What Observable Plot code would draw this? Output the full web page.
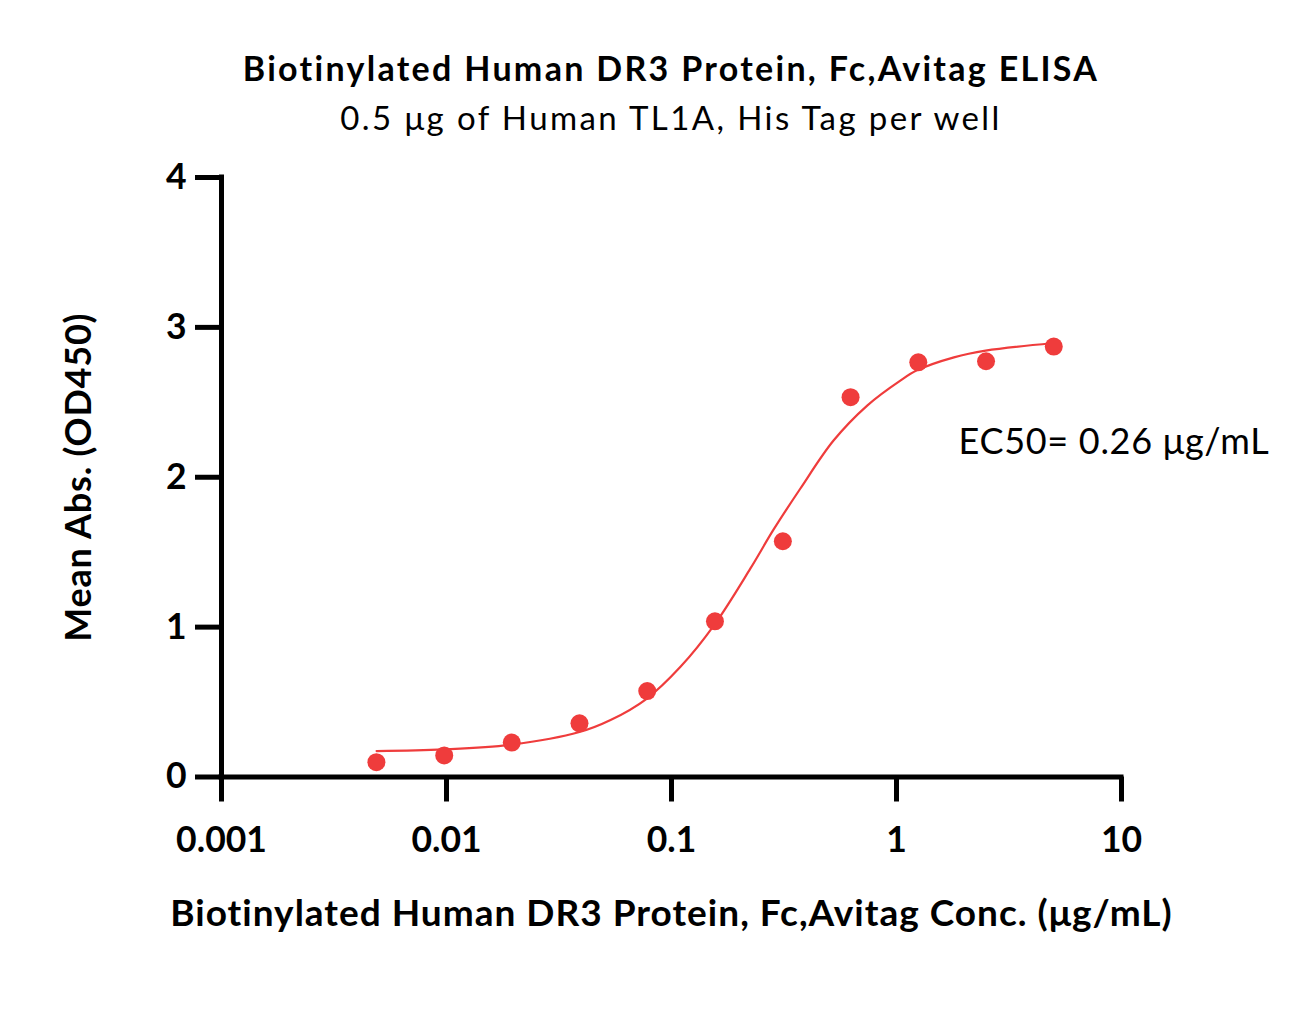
<!DOCTYPE html>
<html>
<head>
<meta charset="utf-8">
<script src="https://cdn.jsdelivr.net/npm/d3@7"></script>
<script src="https://cdn.jsdelivr.net/npm/@observablehq/plot@0.6"></script>
<style>
  html, body { margin: 0; padding: 0; background: #fff; overflow: hidden; }
  #wrap { position: relative; width: 1309px; }
  #header { position: relative; width: 1309px; height: 150px; }
  .ttl { position: absolute; left: 0; width: 1309px; padding-left: 33px; box-sizing: border-box;
         text-align: center; font-family: Lato, sans-serif; color: #000; white-space: nowrap; line-height: 40px; }
  #title { top: 47.5px; font-size: 34px; font-weight: bold; letter-spacing: 2.3px; }
  #subtitle { top: 96.5px; font-size: 33px; font-weight: normal; letter-spacing: 2.4px; }
</style>
</head>
<body>
<div id="wrap">
  <div id="header">
    <div id="title" class="ttl"></div>
    <div id="subtitle" class="ttl"></div>
  </div>
  <div id="chart"></div>
</div>
<script>
// ---- text ----
const titleText = "Biotinylated Human DR3 Protein, Fc,Avitag ELISA";
const subtitleText = "0.5 μg of Human TL1A, His Tag per well";
const xTitle = "Biotinylated Human DR3 Protein, Fc,Avitag Conc. (μg/mL)";
const yTitle = "Mean Abs. (OD450)";
const ec50Label = "EC50= 0.26 μg/mL";

// ---- measured points ----
const conc = [0.00488, 0.00977, 0.0195, 0.039, 0.078, 0.156, 0.3125, 0.625, 1.25, 2.5, 5];
const absorbance = [0.099, 0.144, 0.230, 0.358, 0.573, 1.039, 1.573, 2.534, 2.767, 2.774, 2.872];

// ---- fitted curve ----
const fitConc = [0.00489, 0.0097, 0.01945, 0.039, 0.0536, 0.0775, 0.1096, 0.155, 0.224, 0.284, 0.374, 0.525, 0.743, 1.04, 1.24, 1.8, 2.49, 4.93];
const fitAbs  = [0.173, 0.184, 0.216, 0.300, 0.380, 0.522, 0.735, 1.015, 1.390, 1.650, 1.925, 2.245, 2.480, 2.645, 2.715, 2.800, 2.845, 2.894];

// ---- annotation anchor (data units) ----
const ec50AnchorX = [1.886];
const ec50AnchorY = [2.158];

// ---- axes ----
const xTicks = [0.001, 0.01, 0.1, 1, 10];
const xTickLabels = ["0.001", "0.01", "0.1", "1", "10"];
const yTicks = [0, 1, 2, 3, 4];

document.getElementById("title").textContent = titleText;
document.getElementById("subtitle").textContent = subtitleText;

const points = conc.map((c, i) => ({x: c, y: absorbance[i]}));
const fit = fitConc.map((c, i) => ({x: c, y: fitAbs[i]}));
const ann = ec50AnchorX.map((x, i) => ({x, y: ec50AnchorY[i], label: ec50Label}));

const red = "#ef3c3c";

const chart = Plot.plot({
  width: 1309,
  height: 882,
  marginLeft: 221,
  marginRight: 188,
  marginTop: 27,
  marginBottom: 255.5,
  style: {fontFamily: "Lato, sans-serif", fontSize: "35px", fontWeight: "bold", color: "#000", background: "#fff", overflow: "visible"},
  x: {type: "log", domain: [0.001, 10]},
  y: {domain: [0, 4]},
  marks: [
    Plot.axisX({
      ticks: xTicks,
      tickFormat: (d) => xTickLabels[xTicks.indexOf(d)],
      tickSize: 25,
      tickPadding: 24.5,
      strokeWidth: 5,
      label: xTitle,
      labelAnchor: "center",
      labelOffset: 148.5,
      labelArrow: "none",
      fontSize: 35.5
    }),
    Plot.axisY({
      ticks: yTicks,
      tickFormat: (d) => String(d),
      tickSize: 26,
      tickPadding: 9,
      strokeWidth: 5,
      label: yTitle,
      labelAnchor: "center",
      labelOffset: 156,
      labelArrow: "none",
      fontSize: 35.5
    }),
    Plot.ruleY([0], {stroke: "#000", strokeWidth: 5, strokeLinecap: "square"}),
    Plot.ruleX([0.001], {stroke: "#000", strokeWidth: 5, strokeLinecap: "square"}),
    Plot.line(fit, {x: "x", y: "y", stroke: red, strokeWidth: 2.2, curve: "catmull-rom"}),
    Plot.dot(points, {x: "x", y: "y", r: 9, fill: red, stroke: "none"}),
    Plot.text(ann, {x: "x", y: "y", text: "label", textAnchor: "start", lineAnchor: "bottom",
                    fontSize: 36, fontWeight: "normal", fill: "#000"})
  ]
});

// fine-tune label typography
const svg = d3.select(chart.tagName.toLowerCase() === "svg" ? chart : chart.querySelector("svg"));
svg.selectAll('g[aria-label="x-axis label"], g[aria-label="x-axis label"] text')
  .attr("font-size", 37).style("letter-spacing", "1px");
svg.selectAll('g[aria-label="y-axis label"], g[aria-label="y-axis label"] text')
  .attr("font-size", 36).style("letter-spacing", "0.8px");
svg.selectAll('g[aria-label="text"] text').style("letter-spacing", "0.7px");

document.getElementById("chart").appendChild(chart);
</script>
</body>
</html>
